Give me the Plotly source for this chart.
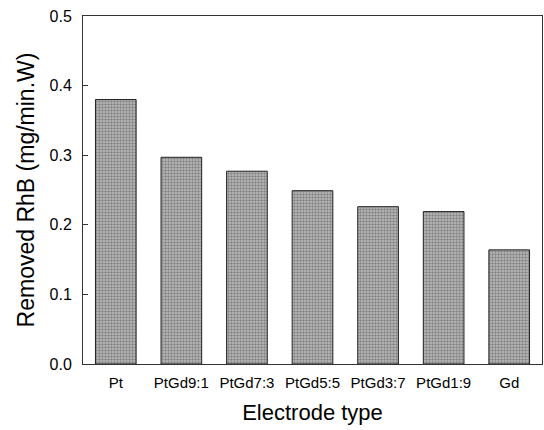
import plotly.graph_objects as go

# Removal rate of RhB for each electrode composition
electrodes = ["Pt", "PtGd9:1", "PtGd7:3", "PtGd5:5", "PtGd3:7", "PtGd1:9", "Gd"]
removed_rhb = [0.380, 0.297, 0.277, 0.249, 0.226, 0.219, 0.164]

y_ticks = [0.0, 0.1, 0.2, 0.3, 0.4, 0.5]
y_tick_text = ["0.0", "0.1", "0.2", "0.3", "0.4", "0.5"]

FONT = "Liberation Sans, Arial, sans-serif"

fig = go.Figure(
    go.Bar(
        x=electrodes,
        y=removed_rhb,
        width=0.62,
        marker=dict(
            color="#b5b5b5",
            line=dict(color="#222222", width=1),
            pattern=dict(shape=".", fgcolor="#4a4a4a", bgcolor="#bdbdbd",
                         size=3, solidity=0.5),
        ),
        hoverinfo="x+y",
    )
)

fig.update_layout(
    width=544,
    height=430,
    margin=dict(l=83, r=2, t=16, b=66),
    paper_bgcolor="white",
    plot_bgcolor="white",
    showlegend=False,
    font=dict(family=FONT, color="black"),
    bargap=0.38,
)

fig.update_xaxes(
    range=[-0.5, 6.5],
    showline=True, linecolor="#333333", linewidth=1, mirror=True,
    ticks="", showgrid=False, zeroline=False,
    tickfont=dict(size=15, family=FONT),
    ticklabelstandoff=5,
    title=dict(text="Electrode type", font=dict(size=22, family=FONT), standoff=14),
)

fig.update_yaxes(
    range=[0, 0.5],
    tickvals=y_ticks, ticktext=y_tick_text,
    showline=True, linecolor="#333333", linewidth=1, mirror=True,
    ticks="inside", ticklen=5, tickcolor="#333333",
    showgrid=False, zeroline=False,
    tickfont=dict(size=16, family=FONT),
    ticklabelstandoff=7,
    title=dict(text="Removed RhB (mg/min.W)", font=dict(size=23, family=FONT), standoff=8),
)

fig.write_html("out.html")
